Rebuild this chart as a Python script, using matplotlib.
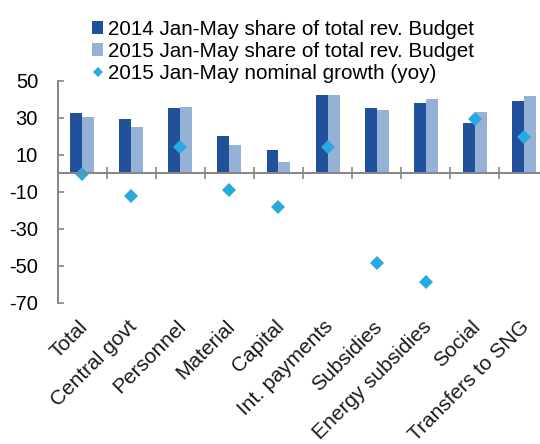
import matplotlib
matplotlib.use("Agg")
import matplotlib.pyplot as plt
import numpy as np
from matplotlib.patches import Patch
from matplotlib.lines import Line2D
from matplotlib.transforms import offset_copy

categories = ["Total", "Central govt", "Personnel", "Material", "Capital",
              "Int. payments", "Subsidies", "Energy subsidies", "Social",
              "Transfers to SNG"]
share_2014 = [32.3, 29.4, 35.5, 20.2, 12.6, 42.3, 35.0, 37.7, 27.4, 38.8]
share_2015 = [30.4, 25.2, 35.8, 15.1, 5.9, 42.2, 34.4, 40.0, 33.0, 41.6]
growth_2015 = [-0.2, -12.4, 14.2, -9.2, -18.2, 14.2, -48.3, -58.6, 29.2, 19.5]
yticks = [50, 30, 10, -10, -30, -50, -70]

labels = ["2014 Jan-May share of total rev. Budget",
          "2015 Jan-May share of total rev. Budget",
          "2015 Jan-May nominal growth (yoy)"]

c14 = "#22519C"
c15 = "#95B1D6"
cdia = "#29A9E0"
grey = "#868686"
FS = 14.5

plt.rcParams['font.family'] = ['Liberation Sans', 'DejaVu Sans']

fig = plt.figure(figsize=(5.40, 4.44), dpi=100)
ax = fig.add_axes([57.5 / 540, 1 - 303 / 444, (548.6 - 57.5) / 540, (303 - 80.7) / 444])

x = np.arange(len(categories))
w = 0.244
ax.bar(x - w / 2, share_2014, width=w, color=c14, zorder=2)
ax.bar(x + w / 2, share_2015, width=w, color=c15, zorder=2)
ax.plot(x, growth_2015, linestyle='none', marker='D', markersize=7.6,
        color=cdia, markeredgewidth=0, zorder=3)

ax.set_xlim(-0.5, len(categories) - 0.5)
ax.set_ylim(-70, 50)
ax.set_yticks(yticks)
ax.set_yticklabels([str(v) for v in yticks], fontsize=FS)

for s in ['top', 'right']:
    ax.spines[s].set_visible(False)
ax.spines['left'].set_color(grey)
ax.spines['left'].set_linewidth(1.4)
ax.spines['bottom'].set_position(('data', 0))
ax.spines['bottom'].set_color(grey)
ax.spines['bottom'].set_linewidth(1.4)
ax.spines['bottom'].set_zorder(4)

ax.tick_params(axis='y', direction='in', length=4.5, width=1.2, color=grey, pad=14)
ax.set_xticks(x)
ax.tick_params(axis='x', which='major', length=0, labelbottom=False)
ax.set_xticks(np.arange(0.5, len(categories) - 0.5, 1), minor=True)
ax.tick_params(axis='x', which='minor', direction='inout', length=8.6, width=1.2, color=grey)

trans = offset_copy(ax.get_xaxis_transform(), fig=fig, x=-4, y=-14, units='dots')
for xi, lab in zip(x, categories):
    ax.text(xi, 0, lab, transform=trans, rotation=45, rotation_mode='anchor',
            ha='right', va='top', fontsize=15.0, color='#1a1a1a')

handles = [Patch(facecolor=c14, edgecolor='none'),
           Patch(facecolor=c15, edgecolor='none'),
           Line2D([], [], linestyle='none', marker='D', markersize=4.6,
                  color=cdia, markeredgewidth=0)]
fig.legend(handles, labels, loc='upper left', bbox_to_anchor=(92 / 540, 1 - 20 / 444),
           frameon=False, fontsize=14.9, handlelength=0.55, handleheight=0.55,
           handletextpad=0.2, labelspacing=0.14, borderaxespad=0, borderpad=0)

fig.savefig("out.png", dpi=100)
